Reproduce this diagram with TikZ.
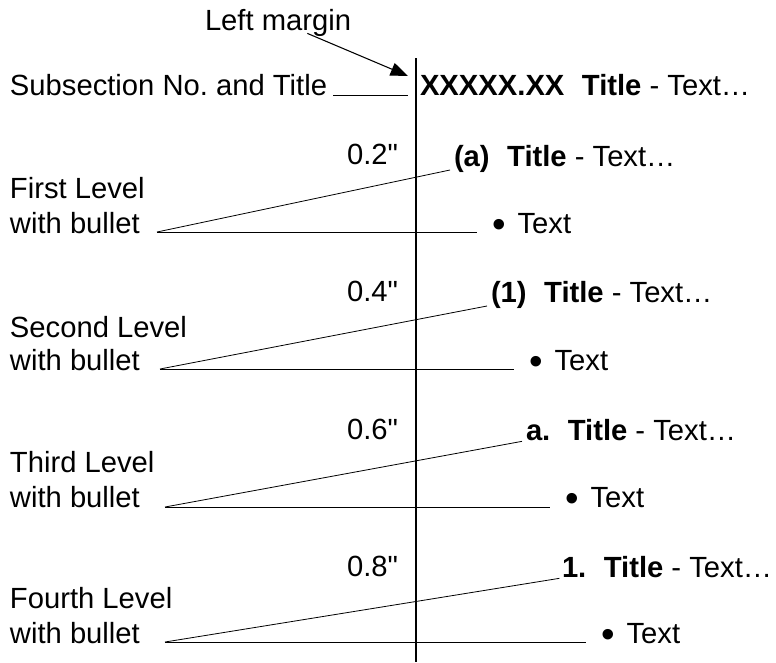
\documentclass[tikz,border=0pt]{standalone}
\usepackage{fontspec}
\setmainfont{Liberation Sans}[Ligatures=TeXOff]
\usetikzlibrary{arrows.meta}
\newcommand{\bul}{\raisebox{-3.5pt}{\fontsize{29}{29}\selectfont\textbullet}}

\begin{document}
\frenchspacing
\begin{tikzpicture}[x=0.75pt,y=-0.75pt,
	lbl/.style={inner sep=0pt,outer sep=0pt,anchor=base west,font=\fontsize{21.9}{26}\selectfont},
	ind/.style={lbl,anchor=base east},
	lead/.style={line width=0.6pt},
	hlead/.style={line width=0.6pt,shorten >=11pt}]
	\useasboundingbox (0,0) rectangle (776,662);
	\coordinate (mtop) at (416,58);
	\coordinate (mbot) at (416,662);
	\draw[line width=1.1pt] (mtop) -- (mbot);
	\node[lbl] (lm) at (205,30) {Left margin};
	\coordinate (mtip) at (408,76);
	\draw[line width=0.8pt,-{Triangle[length=13pt,width=10pt]}] ([xshift=22pt,yshift=2pt]lm.south) -- (mtip);
	\node[lbl] (sub) at (10,95) {Subsection No. and Title};
	\node[lbl] (hd) at (420,95) {\textbf{XXXXX.XX}\hspace{0.6em}\textbf{Title} - Text…};
	\draw[lead,shorten >=6pt] ([xshift=4.5pt]sub.base east) -- (sub.base east -| mtop);

	\node[ind] (ind1) at (398,164) {0.2"};
	\node[lbl] (tt1) at (454,166) {\textbf{(a)}\hspace{0.6em}\textbf{Title} - Text…};
	\node[lbl] (lv1) at (10,198) {First Level};
	\node[lbl] (wb1) at (10,233) {with bullet};
	\node[lbl] (bt1) at (492,233) {\bul\hspace{9pt}Text};
	\coordinate (apex1) at (157,232);
	\draw[lead] (apex1) -- ([shift={(-3pt,-3pt)}]tt1.base west);
	\draw[hlead] (apex1) -- (apex1 -| bt1.west);

	\node[ind] (ind2) at (398,301) {0.4"};
	\node[lbl] (tt2) at (491,302) {\textbf{(1)}\hspace{0.6em}\textbf{Title} - Text…};
	\node[lbl] (lv2) at (10,337) {Second Level};
	\node[lbl] (wb2) at (10,370) {with bullet};
	\node[lbl] (bt2) at (529,370) {\bul\hspace{9pt}Text};
	\coordinate (apex2) at (160,369);
	\draw[lead] (apex2) -- ([shift={(-3pt,-3pt)}]tt2.base west);
	\draw[hlead] (apex2) -- (apex2 -| bt2.west);

	\node[ind] (ind3) at (398,439) {0.6"};
	\node[lbl] (tt3) at (526,440) {\textbf{a.}\hspace{0.6em}\textbf{Title} - Text…};
	\node[lbl] (lv3) at (10,472) {Third Level};
	\node[lbl] (wb3) at (10,507) {with bullet};
	\node[lbl] (bt3) at (565,507) {\bul\hspace{9pt}Text};
	\coordinate (apex3) at (165,507);
	\draw[lead] (apex3) -- ([shift={(-3pt,-1pt)}]tt3.base west);
	\draw[hlead] (apex3) -- (apex3 -| bt3.west);

	\node[ind] (ind4) at (398,576) {0.8"};
	\node[lbl] (tt4) at (562,577) {\textbf{1.}\hspace{0.6em}\textbf{Title} - Text…};
	\node[lbl] (lv4) at (10,608) {Fourth Level};
	\node[lbl] (wb4) at (10,643) {with bullet};
	\node[lbl] (bt4) at (601,643) {\bul\hspace{9pt}Text};
	\coordinate (apex4) at (165,642);
	\draw[lead] (apex4) -- ([shift={(-2pt,-1pt)}]tt4.base west);
	\draw[hlead] (apex4) -- (apex4 -| bt4.west);
\end{tikzpicture}
\end{document}
